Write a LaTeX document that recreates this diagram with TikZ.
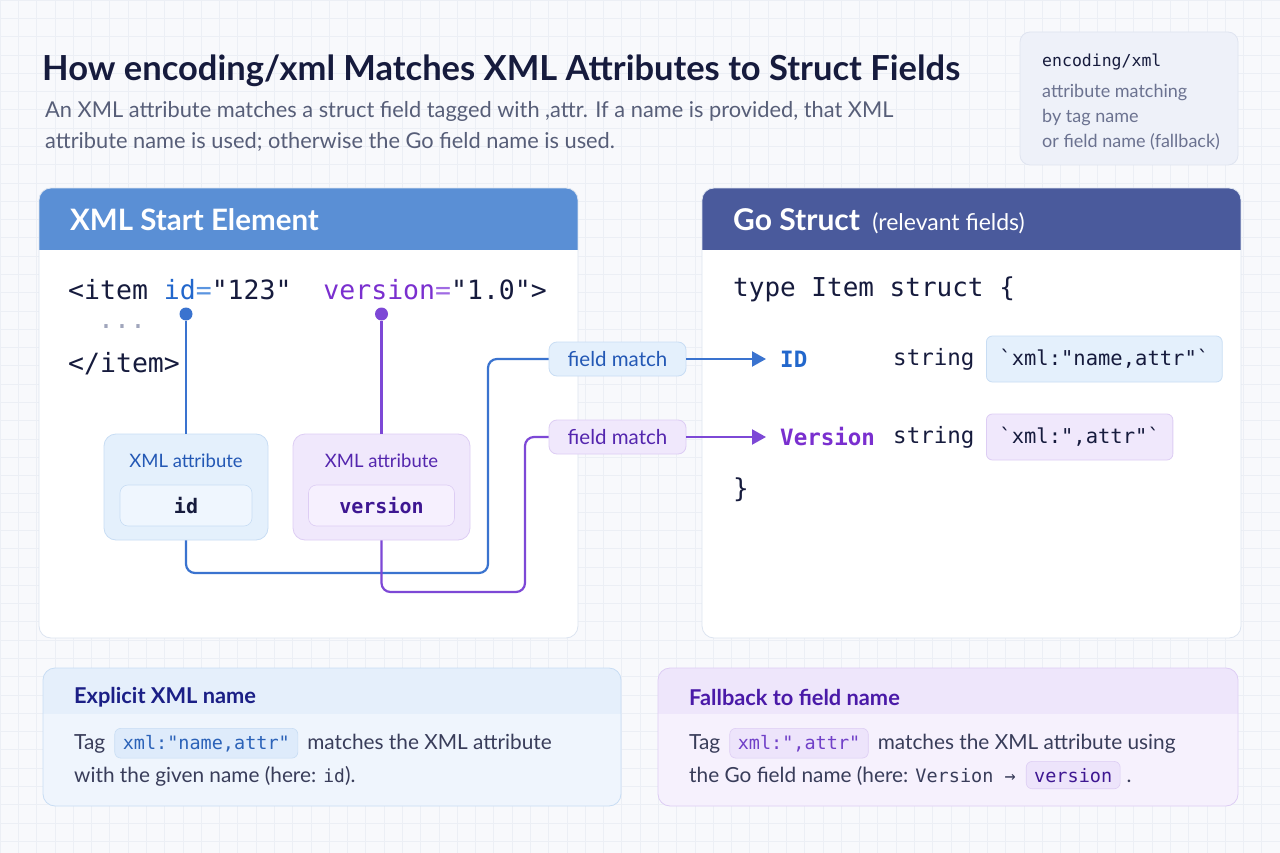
\documentclass[tikz,border=0pt]{standalone}
\usepackage{fontspec}
\setmainfont{Lato}
\newfontfamily\codefont{DejaVu Sans Mono}
\usepackage{xcolor}
\usepackage{tikz}
\usetikzlibrary{arrows.meta, positioning}

\definecolor{pagebg}{HTML}{F8F9FC}
\definecolor{gridcol}{HTML}{ECEFF5}
\definecolor{ink}{HTML}{161B3D}
\definecolor{subink}{HTML}{575E78}
\definecolor{infoink}{HTML}{6B7290}
\definecolor{xmlhead}{HTML}{5A8FD5}
\definecolor{gohead}{HTML}{4A5A9C}
\definecolor{paneledge}{HTML}{DCE4F0}
\definecolor{idblue}{HTML}{2267CC}
\definecolor{idlight}{HTML}{5B95E0}
\definecolor{verpurple}{HTML}{7A2FCF}
\definecolor{verlight}{HTML}{A06BE3}
\definecolor{verdark}{HTML}{3E1792}
\definecolor{blueline}{HTML}{3A73CF}
\definecolor{purpleline}{HTML}{7D48D6}
\definecolor{bluefill}{HTML}{E4F0FC}
\definecolor{blueedge}{HTML}{C8DDF4}
\definecolor{blueinner}{HTML}{EFF6FE}
\definecolor{bluetext}{HTML}{2358B5}
\definecolor{purplefill}{HTML}{F0E8FC}
\definecolor{purpleedge}{HTML}{DDCDF4}
\definecolor{purpleinner}{HTML}{F6F0FE}
\definecolor{purpletext}{HTML}{5426AE}
\definecolor{bluenote}{HTML}{EFF5FD}
\definecolor{bluenotehead}{HTML}{E5EFFB}
\definecolor{bluechip}{HTML}{DEEBFB}
\definecolor{bluechiptext}{HTML}{2B62B8}
\definecolor{bluenotetitle}{HTML}{1B1F86}
\definecolor{purplenote}{HTML}{F6F1FD}
\definecolor{purplenotehead}{HTML}{EEE6FB}
\definecolor{purplechip}{HTML}{EDE4FB}
\definecolor{purplechiptext}{HTML}{7040C8}
\definecolor{purplenotetitle}{HTML}{4A1AA8}
\definecolor{infofill}{HTML}{EEF1F9}
\definecolor{infoedge}{HTML}{DFE4F0}
\definecolor{dotgray}{HTML}{A0A6BC}

\begin{document}
\begin{tikzpicture}[x=1pt, y=-1pt,
    txt/.style={inner sep=0pt, anchor=west, text=ink},
    body/.style={txt, text=ink!85, font=\fontsize{20.8}{24}\selectfont},
    code/.style={txt, font=\codefont\fontsize{26.5}{30}\selectfont},
    fld/.style={txt, font=\codefont\fontsize{22.5}{26}\selectfont},
    tagbox/.style={draw=#1edge, fill=#1fill, rounded corners=6pt, line width=0.8pt, minimum height=46pt, inner xsep=13pt, anchor=west, text=ink, font=\codefont\fontsize{20.5}{24}\selectfont},
    attrbox/.style={draw=#1edge, fill=#1fill, rounded corners=12pt, line width=0.8pt, minimum height=106pt},
    attrname/.style={draw=#1edge, fill=#1inner, rounded corners=8pt, line width=0.6pt, minimum height=41pt, font=\codefont\bfseries\fontsize{20}{24}\selectfont},
    matchbox/.style={draw=#1edge, fill=#1fill, rounded corners=8pt, line width=0.8pt, minimum width=137pt, minimum height=34pt, text=#1text, font=\fontsize{20.5}{24}\selectfont},
    chip/.style={draw=#1edge, fill=#1chip, rounded corners=6pt, line width=0.6pt, inner xsep=8pt, inner ysep=6.5pt, text=#1chiptext, font=\codefont\fontsize{18.5}{22}\selectfont},
    dot/.style={circle, fill=#1, inner sep=0pt, minimum size=13pt},
    bline/.style={draw=blueline, line width=2.2pt},
    pline/.style={draw=purpleline, line width=2.2pt},
    barr/.style={bline, -{Triangle[length=14pt, width=15pt]}, shorten >=14pt},
    parr/.style={pline, -{Triangle[length=14pt, width=15pt]}, shorten >=14pt}
]
\useasboundingbox (0,0) rectangle (1280,853);
\fill[pagebg] (0,0) rectangle (1280,853);
\foreach \i in {0,...,70} \draw[gridcol, line width=0.6pt] (\i*18.2857,0) -- (\i*18.2857,853);
\foreach \j in {0,...,46} \draw[gridcol, line width=0.6pt] (0,\j*18.2857) -- (1280,\j*18.2857);

\node[txt, font=\bfseries\fontsize{34.5}{40}\selectfont] (title) at (42,71) {How encoding/xml Matches XML Attributes to Struct Fields};
\node[txt, anchor=north west, align=left, text=subink, font=\fontsize{21.8}{31}\selectfont] (subtitle) at (45,101) {An XML attribute matches a struct field tagged with ,attr. If a name is provided, that XML\\attribute name is used; otherwise the Go field name is used.};

\draw[infoedge, fill=infofill, rounded corners=10pt, line width=0.8pt] (1020,32) rectangle (1238,165);
\node[txt, font=\codefont\fontsize{16.5}{20}\selectfont] (infotitle) at (1042,62) {encoding/xml};
\node[txt, anchor=north west, align=left, text=infoink, font=\fontsize{18}{25}\selectfont] (infonote) at (1042,84) {attribute matching\\by tag name\\or field name (fallback)};

\fill[white, rounded corners=12pt] (39,188) rectangle (578,638);
\begin{scope}
\clip[rounded corners=12pt] (39,188) rectangle (578,638);
\fill[xmlhead] (39,188) rectangle (578,250);
\end{scope}
\draw[paneledge, rounded corners=12pt, line width=0.8pt] (39,188) rectangle (578,638);
\node[txt, text=white, font=\bfseries\fontsize{29.5}{34}\selectfont] (xmltitle) at (70,220) {XML Start Element};

\fill[white, rounded corners=12pt] (702,188) rectangle (1241,638);
\begin{scope}
\clip[rounded corners=12pt] (702,188) rectangle (1241,638);
\fill[gohead] (702,188) rectangle (1241,250);
\end{scope}
\draw[paneledge, rounded corners=12pt, line width=0.8pt] (702,188) rectangle (1241,638);
\node[txt, text=white, font=\bfseries\fontsize{30}{34}\selectfont] (gotitle) at (733,220) {Go Struct};
\node[txt, text=white, font=\fontsize{23}{26}\selectfont, base right=12pt of gotitle] (gonote) {(relevant fields)};

\node[code] (starttag) at (68,290) {<item {\color{idblue}id}{\color{idlight}=}"123"\ \ {\color{verpurple}version}{\color{verlight}=}"1.0">};
\node[code, text=dotgray] (ellipsis) at (98,327) {...};
\node[code] (endtag) at (68,364) {</item>};

\node[dot=blueline] (iddot) at (186,314) {};
\node[dot=purpleline] (verdot) at (381.5,314) {};

\node[attrbox=blue, minimum width=164pt] (idbox) at (186,487) {};
\node[txt, anchor=center, text=bluetext, font=\fontsize{18.5}{22}\selectfont] (idlabel) at (186,461) {XML attribute};
\node[attrname=blue, minimum width=132pt, text=ink] (idname) at (186,505.5) {id};

\node[attrbox=purple, minimum width=177pt] (verbox) at (381.5,487) {};
\node[txt, anchor=center, text=purpletext, font=\fontsize{18.5}{22}\selectfont] (verlabel) at (381.5,461) {XML attribute};
\node[attrname=purple, minimum width=146pt, text=verdark] (vername) at (381.5,505.5) {version};

\draw[bline] (iddot) -- (idbox);
\draw[pline] (verdot) -- (verbox);

\node[matchbox=blue] (idmatch) at (617.5,359) {field match};
\node[matchbox=purple] (vermatch) at (617.5,437) {field match};

\coordinate (idturn) at (488,573);
\coordinate (verturn) at (525,592);
\draw[bline, rounded corners=9pt] (idbox.south) |- (idturn) |- (idmatch.west);
\draw[pline, rounded corners=9pt] (verbox.south) |- (verturn) |- (vermatch.west);

\node[code, font=\codefont\fontsize{26}{30}\selectfont] (typeline) at (733,289) {type Item struct \{};
\node[fld, text=idblue, font=\codefont\bfseries\fontsize{22.5}{26}\selectfont] (idfld) at (780,359) {ID};
\node[fld] (idtype) at (893,359) {string};
\node[tagbox=blue] (idtag) at (986,359) {`xml:"name,attr"`};
\node[fld, text=verpurple, font=\codefont\bfseries\fontsize{22.5}{26}\selectfont] (verfld) at (780,437) {Version};
\node[fld] (vertype) at (893,437) {string};
\node[tagbox=purple] (vertag) at (986,437) {`xml:",attr"`};
\node[code, font=\codefont\fontsize{26}{30}\selectfont] (closebrace) at (733,490) {\}};

\draw[barr] (idmatch) -- (idfld.west);
\draw[parr] (vermatch) -- (verfld.west);

\fill[bluenote, rounded corners=12pt] (43,668) rectangle (621,806);
\begin{scope}
\clip[rounded corners=12pt] (43,668) rectangle (621,806);
\fill[bluenotehead] (43,668) rectangle (621,714);
\end{scope}
\draw[blueedge, rounded corners=12pt, line width=0.8pt] (43,668) rectangle (621,806);
\node[txt, text=bluenotetitle, font=\bfseries\fontsize{21.8}{26}\selectfont] (lnotetitle) at (74,697) {Explicit XML name};
\node[body, anchor=base west] (ltag) at (74,749) {Tag};
\node[chip=blue, base right=9pt of ltag] (lchip) {xml:"name,attr"};
\node[body, base right=9pt of lchip] (lrest) {matches the XML attribute};
\node[body, anchor=base west] (lline) at (74,782) {with the given name (here: {\codefont\fontsize{18}{22}\selectfont id}).};

\fill[purplenote, rounded corners=12pt] (658,668) rectangle (1238,806);
\begin{scope}
\clip[rounded corners=12pt] (658,668) rectangle (1238,806);
\fill[purplenotehead] (658,668) rectangle (1238,714);
\end{scope}
\draw[purpleedge, rounded corners=12pt, line width=0.8pt] (658,668) rectangle (1238,806);
\node[txt, text=purplenotetitle, font=\bfseries\fontsize{21.8}{26}\selectfont] (rnotetitle) at (689,697) {Fallback to field name};
\node[body, anchor=base west] (rtag) at (689,749) {Tag};
\node[chip=purple, base right=9pt of rtag] (rchip) {xml:",attr"};
\node[body, base right=9pt of rchip] (rrest) {matches the XML attribute using};
\node[body, anchor=base west] (rline) at (689,782) {the Go field name (here: {\codefont\fontsize{18.5}{22}\selectfont Version →}};
\node[chip=purple, text=verdark, font=\codefont\fontsize{18.5}{22}\selectfont, base right=10pt of rline] (rchipb) {version};
\node[body, base right=6pt of rchipb] (rdot) {.};
\end{tikzpicture}
\end{document}
